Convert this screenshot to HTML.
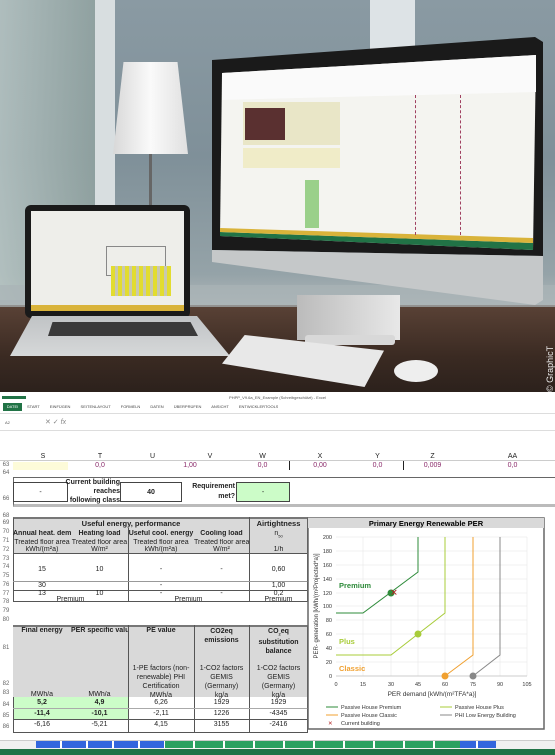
<!DOCTYPE html>
<html><head><meta charset="utf-8"><style>
*{margin:0;padding:0;box-sizing:border-box}
body{width:555px;height:755px;overflow:hidden;background:#fff;font-family:"Liberation Sans",sans-serif;position:relative}
.a{position:absolute}
.t{position:absolute;font-size:7px;color:#222;text-align:center;white-space:nowrap;overflow:hidden}
.b{font-weight:bold}
.rn{position:absolute;left:0;width:12px;font-size:6px;color:#666;text-align:center}
</style></head><body>
<!-- PHOTO -->
<div class="a" style="left:0;top:0;width:555px;height:392px;background:linear-gradient(180deg,#8a9aa3 0%,#7f9099 40%,#95a3a8 70%,#b0b8ba 78%)"></div>
<div class="a" style="left:0;top:0;width:100px;height:300px;background:linear-gradient(90deg,#b8c6c4,#8fa19e);opacity:.8"></div>
<div class="a" style="left:95px;top:0;width:20px;height:300px;background:#d8dee0"></div>
<div class="a" style="left:370px;top:0;width:45px;height:50px;background:#dde3e6"></div>
<div class="a" style="left:0;top:305px;width:555px;height:87px;background:linear-gradient(180deg,#5a4236,#3a2a22 60%,#2c211c)"></div>
<div class="a" style="left:0;top:285px;width:555px;height:22px;background:#a9b3b6;opacity:.7"></div>
<!-- lamp -->
<div class="a" style="left:149px;top:150px;width:3px;height:60px;background:#666"></div>
<div class="a" style="left:113px;top:62px;width:75px;height:92px;background:linear-gradient(90deg,#d8d8d8,#fafafa 50%,#e0e0e0);clip-path:polygon(14% 0,86% 0,100% 100%,0 100%)"></div>
<!-- iMac -->
<div class="a" style="left:0;top:0;width:555px;height:392px;background:#1a1a1a;clip-path:polygon(212px 60px,535px 37px,543px 42px,543px 256px,212px 250px)"></div>
<div class="a" style="left:0;top:0;width:555px;height:392px;background:#c5c8c9;clip-path:polygon(212px 250px,543px 256px,543px 300px,535px 305px,212px 262px)"></div>
<div class="a" style="left:0;top:0;width:555px;height:392px;background:#f4f4f0;clip-path:polygon(222px 73px,536px 55px,533px 250px,220px 236px)"></div>
<div class="a" style="left:0;top:0;width:555px;height:392px;background:#fafafa;clip-path:polygon(222px 73px,536px 55px,536px 92px,222px 100px)"></div>
<div class="a" style="left:0;top:0;width:555px;height:392px;background:#217346;clip-path:polygon(220px 232px,533px 243px,533px 250px,220px 236px)"></div>
<div class="a" style="left:0;top:0;width:555px;height:392px;background:#d9b33a;clip-path:polygon(220px 228px,533px 238px,533px 243px,220px 232px)"></div>
<div class="a" style="left:243px;top:102px;width:97px;height:43px;background:#e9e6c7"></div>
<div class="a" style="left:245px;top:108px;width:40px;height:32px;background:#5a3030"></div>
<div class="a" style="left:243px;top:148px;width:97px;height:20px;background:#f0ecc8"></div>
<div class="a" style="left:305px;top:180px;width:14px;height:48px;background:#9ad08a"></div>
<div class="a" style="left:415px;top:95px;width:1px;height:140px;border-left:1px dashed #a04060"></div>
<div class="a" style="left:460px;top:95px;width:1px;height:140px;border-left:1px dashed #a04060"></div>
<div class="a" style="left:297px;top:295px;width:103px;height:45px;background:linear-gradient(90deg,#bbb,#e8e8e8)"></div>
<div class="a" style="left:305px;top:335px;width:90px;height:10px;background:#d8d8d8;border-radius:3px"></div>
<!-- laptop -->
<div class="a" style="left:25px;top:205px;width:165px;height:113px;background:#1a1a1a;border-radius:6px"></div>
<div class="a" style="left:31px;top:211px;width:153px;height:100px;background:#eeeeea">
<div class="a" style="left:75px;top:35px;width:60px;height:30px;border:1px solid #888"></div>
<div class="a" style="left:80px;top:55px;width:60px;height:30px;background:repeating-linear-gradient(90deg,#e2dc30 0 4px,#c8c8b0 4px 7px)"></div>
<div class="a" style="left:0;top:94px;width:153px;height:6px;background:#d9b33a"></div>
</div>
<div class="a" style="left:10px;top:316px;width:220px;height:40px;background:linear-gradient(180deg,#c0c3c5,#d6d8d9);clip-path:polygon(10% 0,85% 0,100% 100%,0 100%)"></div>
<div class="a" style="left:48px;top:322px;width:150px;height:14px;background:#3a3a3a;clip-path:polygon(3% 0,95% 0,100% 100%,0 100%)"></div>
<!-- keyboard, mouse -->
<div class="a" style="left:222px;top:335px;width:162px;height:52px;background:#e8e8e8;clip-path:polygon(14% 0,100% 30%,88% 100%,0 55%)"></div>
<div class="a" style="left:394px;top:360px;width:44px;height:22px;background:#eee;border-radius:50%"></div>
<div class="a" style="left:545px;top:392px;font-size:9px;color:#eee;transform:rotate(-90deg);transform-origin:left top;white-space:nowrap">© GraphicT</div>

<!-- EXCEL -->
<div class="a" style="left:0;top:392px;width:555px;height:363px;background:#fff"></div>
<div class="t" style="left:0;top:395px;width:555px;font-size:4px;color:#555">PHPP_V9.6a_EN_Example (Schreibgeschützt) - Excel</div>
<div class="a" style="left:2px;top:396px;width:24px;height:3px;background:#217346"></div>
<div class="a" style="left:3px;top:403px;width:19px;height:8px;background:#217346"></div>
<div class="t" style="left:3px;top:404px;width:19px;font-size:4px;color:#fff">DATEI</div>
<div class="t" style="left:27px;top:404px;font-size:4px;color:#444;text-align:left;word-spacing:9px">START EINFÜGEN SEITENLAYOUT FORMELN DATEN ÜBERPRÜFEN ANSICHT ENTWICKLERTOOLS</div>
<div class="a" style="left:0;top:413px;width:555px;height:1px;background:#ddd"></div>
<div class="t" style="left:5px;top:420px;font-size:4px;color:#555">A2</div>
<div class="t" style="left:45px;top:418px;font-size:7px;color:#888">✕ ✓ <i>fx</i></div>
<div class="a" style="left:0;top:430px;width:555px;height:1px;background:#ddd"></div>
<div class="a" style="left:0;top:452px;width:555px;height:9px;border-bottom:1px solid #ccc"></div>
<div class="t" style="left:13px;top:453px;width:60px">S</div><div class="t" style="left:72px;top:453px;width:56px">T</div>
<div class="t" style="left:120px;top:453px;width:65px">U</div><div class="t" style="left:180px;top:453px;width:60px">V</div>
<div class="t" style="left:235px;top:453px;width:55px">W</div><div class="t" style="left:290px;top:453px;width:60px">X</div>
<div class="t" style="left:350px;top:453px;width:55px">Y</div><div class="t" style="left:405px;top:453px;width:55px">Z</div>
<div class="t" style="left:485px;top:453px;width:55px">AA</div>
<div class="a" style="left:13px;top:462px;width:55px;height:8px;background:#fdfbd9"></div>
<div class="t" style="left:72px;top:462px;width:56px;color:#8a2a6a">0,0</div>
<div class="t" style="left:120px;top:462px;width:140px;color:#8a2a6a">1,00</div>
<div class="t" style="left:235px;top:462px;width:55px;color:#8a2a6a">0,0</div>
<div class="t" style="left:290px;top:462px;width:60px;color:#8a2a6a">0,00</div>
<div class="t" style="left:350px;top:462px;width:55px;color:#8a2a6a">0,0</div>
<div class="t" style="left:405px;top:462px;width:55px;color:#8a2a6a">0,009</div>
<div class="t" style="left:485px;top:462px;width:55px;color:#8a2a6a">0,0</div>
<div class="a" style="left:289px;top:461px;width:1px;height:9px;background:#222"></div>
<div class="a" style="left:403px;top:461px;width:1px;height:9px;background:#222"></div>
<div class="rn" style="top:462px">63</div><div class="rn" style="top:470px">64</div><div class="rn" style="top:496px">66</div>
<div class="a" style="left:13px;top:477px;width:545px;height:30px;border:1px solid #666;border-bottom:3px solid #bbb"></div>
<div class="a" style="left:13px;top:482px;width:55px;height:20px;border:1px solid #444"></div><div class="t" style="left:13px;top:489px;width:55px">-</div>
<div class="t b" style="left:65px;top:478px;width:55px;text-align:right;line-height:9px;font-size:7px">Current building<br>reaches<br>following class</div>
<div class="a" style="left:120px;top:482px;width:62px;height:20px;border:1px solid #444"></div><div class="t b" style="left:120px;top:489px;width:62px">40</div>
<div class="t b" style="left:185px;top:482px;width:50px;text-align:right;line-height:10px">Requirement<br>met?</div>
<div class="a" style="left:236px;top:482px;width:54px;height:20px;border:1px solid #444;background:#ccfcc8"></div><div class="t" style="left:236px;top:489px;width:54px">-</div>
<!-- row numbers -->
<div class="rn" style="top:513px">68</div><div class="rn" style="top:520px">69</div><div class="rn" style="top:529px">70</div><div class="rn" style="top:538px">71</div><div class="rn" style="top:547px">72</div><div class="rn" style="top:556px">73</div><div class="rn" style="top:564px">74</div><div class="rn" style="top:573px">75</div><div class="rn" style="top:582px">76</div><div class="rn" style="top:591px">77</div><div class="rn" style="top:599px">78</div><div class="rn" style="top:608px">79</div><div class="rn" style="top:617px">80</div><div class="rn" style="top:645px">81</div><div class="rn" style="top:681px">82</div><div class="rn" style="top:690px">83</div><div class="rn" style="top:702px">84</div><div class="rn" style="top:713px">85</div><div class="rn" style="top:724px">86</div>
<!-- useful energy table -->
<div class="a" style="left:13px;top:517px;width:295px;height:37px;background:#d9d9d9;border:1px solid #555;border-top:2px solid #777"></div>
<div class="a" style="left:249px;top:517px;width:1px;height:85px;background:#555"></div>
<div class="a" style="left:128px;top:528px;width:1px;height:74px;background:#555"></div>
<div class="t b" style="left:13px;top:519px;width:236px;font-size:7.5px">Useful energy, performance</div>
<div class="t b" style="left:249px;top:519px;width:59px;font-size:7.5px">Airtightness</div>
<div class="t b" style="left:13px;top:530px;width:58px">Annual heat. dem</div>
<div class="t b" style="left:71px;top:530px;width:57px">Heating load</div>
<div class="t b" style="left:128px;top:530px;width:66px">Useful cool. energy</div>
<div class="t b" style="left:194px;top:530px;width:55px">Cooling load</div>
<div class="t" style="left:249px;top:530px;width:59px">n<sub style="font-size:4px">50</sub></div>
<div class="t" style="left:13px;top:539px;width:58px">Treated floor area</div><div class="t" style="left:71px;top:539px;width:57px">Treated floor area</div><div class="t" style="left:128px;top:539px;width:66px">Treated floor area</div><div class="t" style="left:194px;top:539px;width:55px">Treated floor area</div>
<div class="t" style="left:13px;top:546px;width:58px">kWh/(m²a)</div><div class="t" style="left:71px;top:546px;width:57px">W/m²</div><div class="t" style="left:128px;top:546px;width:66px">kWh/(m²a)</div><div class="t" style="left:194px;top:546px;width:55px">W/m²</div><div class="t" style="left:249px;top:546px;width:59px">1/h</div>
<div class="a" style="left:13px;top:554px;width:295px;height:48px;border-left:1px solid #555;border-right:1px solid #555;border-bottom:1px solid #555"></div>
<div class="t" style="left:13px;top:566px;width:58px">15</div><div class="t" style="left:71px;top:566px;width:57px">10</div><div class="t" style="left:128px;top:566px;width:66px">-</div><div class="t" style="left:194px;top:566px;width:55px">-</div><div class="t" style="left:249px;top:566px;width:59px">0,60</div>
<div class="a" style="left:13px;top:581px;width:295px;height:1px;background:#999"></div>
<div class="t" style="left:13px;top:582px;width:58px">30</div><div class="t" style="left:128px;top:582px;width:66px">-</div><div class="t" style="left:249px;top:582px;width:59px">1,00</div>
<div class="a" style="left:13px;top:590px;width:295px;height:1px;background:#555"></div>
<div class="t" style="left:13px;top:590px;width:58px">13</div><div class="t" style="left:71px;top:590px;width:57px">10</div><div class="t" style="left:128px;top:590px;width:66px">-</div><div class="t" style="left:194px;top:590px;width:55px">-</div><div class="t" style="left:249px;top:590px;width:59px">0,2</div>
<div class="t" style="left:13px;top:596px;width:115px">Premium</div><div class="t" style="left:128px;top:596px;width:121px">Premium</div><div class="t" style="left:249px;top:596px;width:59px">Premium</div>
<!-- lower table -->
<div class="a" style="left:13px;top:625px;width:295px;height:72px;background:#d9d9d9;border-top:2px solid #777;border-right:1px solid #555"></div>
<div class="a" style="left:128px;top:625px;width:1px;height:108px;background:#555"></div>
<div class="a" style="left:194px;top:625px;width:1px;height:108px;background:#555"></div>
<div class="a" style="left:249px;top:625px;width:1px;height:108px;background:#555"></div>
<div class="t b" style="left:13px;top:627px;width:58px">Final energy</div><div class="t b" style="left:71px;top:627px;width:57px">PER specific valu</div>
<div class="t b" style="left:128px;top:627px;width:66px">PE value</div>
<div class="t b" style="left:194px;top:627px;width:55px;line-height:9px">CO2eq<br>emissions</div>
<div class="t b" style="left:249px;top:627px;width:59px;line-height:9px">CO<sub style="font-size:4px">2</sub>eq<br>substitution<br>balance</div>
<div class="t" style="left:128px;top:664px;width:66px;line-height:9px">1-PE factors (non-<br>renewable) PHI<br>Certification<br>MWh/a</div>
<div class="t" style="left:194px;top:664px;width:55px;line-height:9px">1-CO2 factors<br>GEMIS<br>(Germany)<br>kg/a</div>
<div class="t" style="left:249px;top:664px;width:59px;line-height:9px">1-CO2 factors<br>GEMIS<br>(Germany)<br>kg/a</div>
<div class="t" style="left:13px;top:691px;width:58px">MWh/a</div><div class="t" style="left:71px;top:691px;width:57px">MWh/a</div>
<div class="a" style="left:13px;top:697px;width:115px;height:22px;background:#ccfcc8"></div>
<div class="a" style="left:13px;top:697px;width:295px;height:36px;border:1px solid #555;border-top:none"></div>
<div class="a" style="left:13px;top:708px;width:295px;height:1px;background:#aaa"></div>
<div class="a" style="left:13px;top:719px;width:295px;height:1px;background:#555"></div>
<div class="t b" style="left:13px;top:699px;width:58px">5,2</div><div class="t b" style="left:71px;top:699px;width:57px">4,9</div><div class="t" style="left:128px;top:699px;width:66px">6,26</div><div class="t" style="left:194px;top:699px;width:55px">1929</div><div class="t" style="left:249px;top:699px;width:59px">1929</div>
<div class="t b" style="left:13px;top:710px;width:58px">-11,4</div><div class="t b" style="left:71px;top:710px;width:57px">-10,1</div><div class="t" style="left:128px;top:710px;width:66px">-2,11</div><div class="t" style="left:194px;top:710px;width:55px">1226</div><div class="t" style="left:249px;top:710px;width:59px">-4345</div>
<div class="t" style="left:13px;top:721px;width:58px">-6,16</div><div class="t" style="left:71px;top:721px;width:57px">-5,21</div><div class="t" style="left:128px;top:721px;width:66px">4,15</div><div class="t" style="left:194px;top:721px;width:55px">3155</div><div class="t" style="left:249px;top:721px;width:59px">-2416</div>
<!-- chart -->
<svg class="a" style="left:306px;top:516px" width="240" height="216" viewBox="306 516 240 216">
<rect x="308" y="518" width="236" height="211" fill="#fff" stroke="#666" stroke-width="1.5"/>
<rect x="308" y="518" width="236" height="10" fill="#d9d9d9"/>
<text x="426" y="526" font-size="7.5" font-weight="bold" text-anchor="middle" font-family="Liberation Sans">Primary Energy Renewable PER</text>
<g stroke="#e6e6e6" stroke-width=".6">
<line x1="336" y1="537" x2="527" y2="537"/><line x1="336" y1="551" x2="527" y2="551"/><line x1="336" y1="565" x2="527" y2="565"/><line x1="336" y1="579" x2="527" y2="579"/><line x1="336" y1="593" x2="527" y2="593"/><line x1="336" y1="606" x2="527" y2="606"/><line x1="336" y1="620" x2="527" y2="620"/><line x1="336" y1="634" x2="527" y2="634"/><line x1="336" y1="648" x2="527" y2="648"/><line x1="336" y1="662" x2="527" y2="662"/>
<line x1="363" y1="537" x2="363" y2="676"/><line x1="391" y1="537" x2="391" y2="676"/><line x1="418" y1="537" x2="418" y2="676"/><line x1="445" y1="537" x2="445" y2="676"/><line x1="473" y1="537" x2="473" y2="676"/><line x1="500" y1="537" x2="500" y2="676"/><line x1="527" y1="537" x2="527" y2="676"/>
</g>
<line x1="336" y1="676" x2="527" y2="676" stroke="#ccc"/>
<g font-size="5.5" fill="#333" font-family="Liberation Sans" text-anchor="end">
<text x="332" y="678">0</text><text x="332" y="664">20</text><text x="332" y="650">40</text><text x="332" y="636">60</text><text x="332" y="622">80</text><text x="332" y="608">100</text><text x="332" y="595">120</text><text x="332" y="581">140</text><text x="332" y="567">160</text><text x="332" y="553">180</text><text x="332" y="539">200</text>
</g>
<g font-size="5.5" fill="#333" font-family="Liberation Sans" text-anchor="middle">
<text x="336" y="686">0</text><text x="363" y="686">15</text><text x="391" y="686">30</text><text x="418" y="686">45</text><text x="445" y="686">60</text><text x="473" y="686">75</text><text x="500" y="686">90</text><text x="527" y="686">105</text>
<text x="432" y="696" font-size="6.5">PER demand [kWh/(m²TFA*a)]</text>
</g>
<text x="318" y="606" font-size="6" fill="#333" font-family="Liberation Sans" text-anchor="middle" transform="rotate(-90 318 606)">PER- generation [kWh/(m²Projected*a)]</text>
<polyline points="336,613 363,613 418,572 418,537" fill="none" stroke="#2e8b3a" stroke-width="1"/>
<polyline points="336,655 391,655 445,613 445,537" fill="none" stroke="#a8cc3a" stroke-width="1"/>
<polyline points="445,676 473,655 473,537" fill="none" stroke="#f0a030" stroke-width="1"/>
<polyline points="473,676 500,655 500,537" fill="none" stroke="#888" stroke-width="1"/>
<circle cx="391" cy="593" r="3.5" fill="#2e8b3a"/>
<text x="394" y="593" font-size="9" fill="#b02020" text-anchor="middle" dominant-baseline="middle">✕</text>
<circle cx="418" cy="634" r="3.5" fill="#a8cc3a"/>
<circle cx="445" cy="676" r="3.5" fill="#f0a030"/>
<circle cx="473" cy="676" r="3.5" fill="#888"/>
<g font-family="Liberation Sans" font-weight="bold" font-size="7.5">
<text x="339" y="588" fill="#2e8b3a">Premium</text><text x="339" y="644" fill="#a8cc3a">Plus</text><text x="339" y="671" fill="#f0a030">Classic</text>
</g>
<g font-family="Liberation Sans" font-size="5.5" fill="#333">
<line x1="326" y1="707" x2="338" y2="707" stroke="#2e8b3a"/><text x="341" y="709">Passive House Premium</text>
<line x1="440" y1="707" x2="452" y2="707" stroke="#a8cc3a"/><text x="455" y="709">Passive House Plus</text>
<line x1="326" y1="715" x2="338" y2="715" stroke="#f0a030"/><text x="341" y="717">Passive House Classic</text>
<line x1="440" y1="715" x2="452" y2="715" stroke="#888"/><text x="455" y="717">PHI Low Energy Building</text>
<text x="328" y="725" fill="#b02020">✕</text><text x="341" y="725">Current building</text>
</g>
</svg>
<!-- sheet tabs -->
<div class="a" style="left:0;top:740px;width:555px;height:9px;background:#f0f0f0;border-top:1px solid #ccc"></div>
<div class="a" style="left:36px;top:741px;width:460px;height:7px;background:repeating-linear-gradient(90deg,#3366dd 0 24px,#fff 24px 26px);"></div>
<div class="a" style="left:165px;top:741px;width:295px;height:7px;background:repeating-linear-gradient(90deg,#2aa060 0 28px,#fff 28px 30px)"></div>
<div class="a" style="left:0;top:749px;width:555px;height:6px;background:#217346"></div>
</body></html>
